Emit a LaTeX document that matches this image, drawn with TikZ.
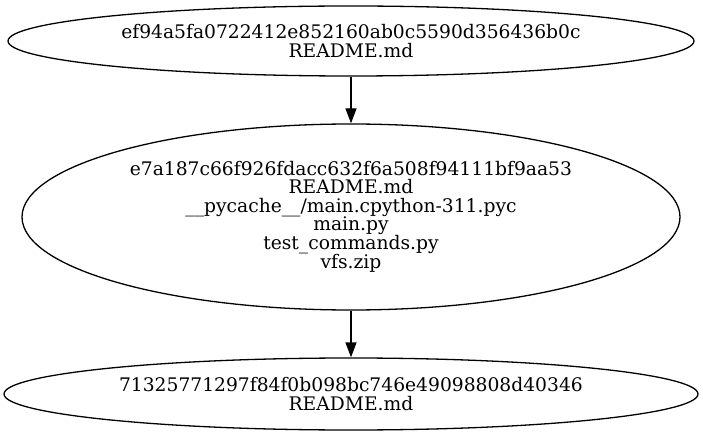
\documentclass[tikz,border=0pt]{standalone}
\usepackage{fontspec}
\setmainfont{DejaVu Serif}
\usetikzlibrary{arrows.meta,shapes.geometric}

\begin{document}
\begin{tikzpicture}[x=1pt,y=-1pt,line width=1.3pt]
\tikzset{>={Triangle[length=15pt,width=11pt]},
  commit/.style={draw,ellipse,inner sep=0pt,align=center,font=\fontsize{18.7}{18.5}\selectfont}}
\useasboundingbox (0,0) rectangle (703,435);

\node[commit,minimum width=686,minimum height=70] (head) at (351,41)
  {ef94a5fa0722412e852160ab0c5590d356436b0c\\README.md};
\node[commit,minimum width=658,minimum height=186] (mid) at (351,217)
  {e7a187c66f926fdacc632f6a508f94111bf9aa53\\README.md\\\_\_pycache\_\_/main.cpython-311.pyc\\main.py\\test\_commands.py\\vfs.zip};
\node[commit,minimum width=694,minimum height=72] (root) at (351,394)
  {71325771297f84f0b098bc746e49098808d40346\\README.md};

\draw[->] (head) -- (mid);
\draw[->] (mid) -- (root);
\end{tikzpicture}
\end{document}
